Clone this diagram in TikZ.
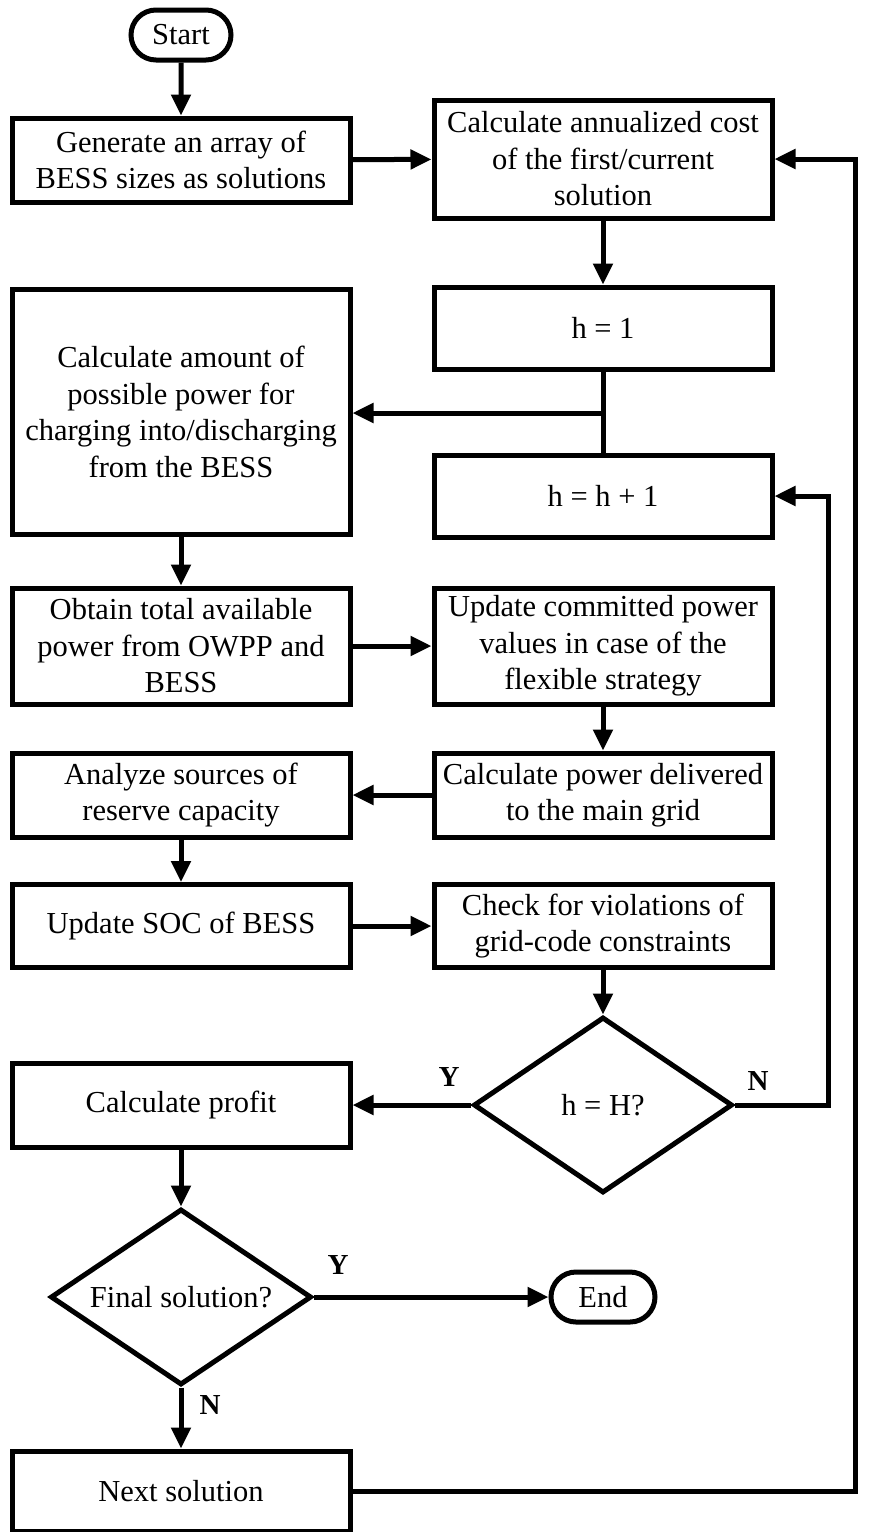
\documentclass[tikz,border=0pt]{standalone}
\usepackage{fontspec}
\setmainfont{Liberation Serif}
\usetikzlibrary{arrows.meta,shapes.geometric,shapes.misc}
\begin{document}
\begin{tikzpicture}[x=1pt,y=-1pt,
  every node/.style={font=\fontsize{30.5}{36.5}\selectfont},
  box/.style={draw, line width=5pt, rectangle, minimum width=338pt, inner sep=0pt, align=center},
  term/.style={draw, line width=5pt, rounded rectangle, minimum width=100pt, minimum height=50pt, inner sep=0pt},
  dec/.style={draw, line width=5pt, diamond, aspect=1.48, minimum width=259pt, minimum height=176pt, inner sep=0pt},
  conn/.style={line width=5pt, -{Triangle[length=21pt,width=19pt]}},
  line/.style={line width=5pt},
  lab/.style={font=\fontsize{29}{36}\selectfont\bfseries}
]
\useasboundingbox (0,0) rectangle (871,1532);

\node[term] (start) at (181,35) {Start};
\node[box, minimum height=84pt] (gen) at (181,160) {Generate an array of\\BESS sizes as solutions};
\node[box, minimum height=118pt] (cost) at (603,159) {Calculate annualized cost\\of the first/current\\solution};
\node[box, minimum height=82pt] (h1) at (603,328) {h = 1};
\node[box, minimum height=82pt] (hh) at (603,496) {h = h + 1};
\node[box, minimum height=245pt] (amt) at (181,412) {Calculate amount of\\possible power for\\charging into/discharging\\from the BESS};
\node[box, minimum height=116pt] (obt) at (181,646) {Obtain total available\\power from OWPP and\\BESS};
\node[box, minimum height=116pt] (upd) at (603,646) {Update committed power\\values in case of the\\flexible strategy};
\node[box, minimum height=84pt] (del) at (603,795) {Calculate power delivered\\to the main grid};
\node[box, minimum height=84pt] (ana) at (181,795) {Analyze sources of\\reserve capacity};
\node[box, minimum height=83pt] (soc) at (181,926) {Update SOC of BESS};
\node[box, minimum height=83pt] (chk) at (603,926) {Check for violations of\\grid-code constraints};
\node[dec] (d1) at (603,1105) {h = H?};
\node[box, minimum height=84pt] (prof) at (181,1105) {Calculate profit};
\node[dec, minimum width=261pt, minimum height=176pt] (d2) at (181,1297) {Final solution?};
\node[term, minimum width=104pt] (end) at (603,1297) {End};
\node[box, minimum height=80pt] (next) at (181,1491) {Next solution};

\node[lab] (ly1) at (449,1077) {Y};
\node[lab] (ln1) at (758,1081) {N};
\node[lab] (ly2) at (338,1265) {Y};
\node[lab] (ln2) at (210,1405) {N};

\coordinate (jn) at (603,413);
\coordinate (rn) at (828,1105);
\coordinate (rr) at (855,1491);

\draw[conn] (start) -- (gen);
\draw[conn] (gen) -- (cost);
\draw[conn] (cost) -- (h1);
\draw[line] (h1.south) -- (hh.north);
\draw[conn] (jn) -- (amt.east |- jn);
\draw[conn] (amt) -- (obt);
\draw[conn] (obt) -- (upd);
\draw[conn] (upd) -- (del);
\draw[conn] (del) -- (ana);
\draw[conn] (ana) -- (soc);
\draw[conn] (soc) -- (chk);
\draw[conn] (chk.south) -- (d1.north);
\draw[conn] (d1.west) -- (prof.east |- d1.west);
\draw[conn] (d1.east) -- (rn) |- (hh.east);
\draw[conn] (prof) -- (d2.north);
\draw[conn] (d2.east) -- (end.west);
\draw[conn] (d2.south) -- (next.north);
\draw[conn] (next.east) -- (rr) |- (cost.east);
\end{tikzpicture}
\end{document}
